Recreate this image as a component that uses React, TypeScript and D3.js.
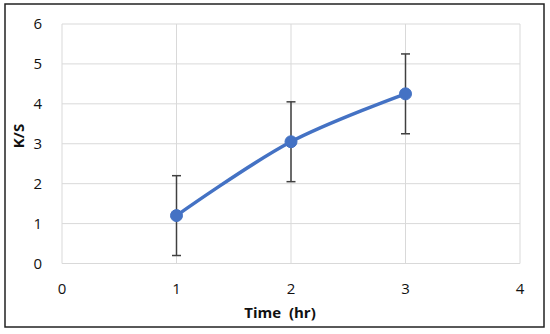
import React from 'react';
import * as d3 from 'd3';

const times = [1, 2, 3];
const ksValues = [1.2, 3.05, 4.25];
const errors = [1, 1, 1];
const xTicks = [0, 1, 2, 3, 4];
const yTicks = [0, 1, 2, 3, 4, 5, 6];

const App = () => {
  const width = 550, height = 334;
  const margin = { top: 24, right: 30, bottom: 70.5, left: 62 };

  const x = d3.scaleLinear().domain([0, 4]).range([margin.left, width - margin.right]);
  const y = d3.scaleLinear().domain([0, 6]).range([height - margin.bottom, margin.top]);

  const points = times.map((t, i) => ({ t, v: ksValues[i], e: errors[i] }));
  const line = d3.line<{ t: number; v: number }>()
    .x((d) => x(d.t))
    .y((d) => y(d.v))
    .curve(d3.curveCatmullRom.alpha(0.5));

  const font = 'Open Sans, Noto Sans, sans-serif';

  return (
    <svg width={width} height={height} style={{ position: 'absolute', left: 0, top: 0 }}>
      <rect x={5} y={4} width={539} height={323} fill="#fff" stroke="#222" strokeWidth={1.5} />
      {/* grid */}
      {yTicks.map((t) => (
        <line key={`gy-${t}`} x1={x(0)} x2={x(4)} y1={y(t)} y2={y(t)} stroke="#d9d9d9" strokeWidth={1} />
      ))}
      {xTicks.map((t) => (
        <line key={`gx-${t}`} x1={x(t)} x2={x(t)} y1={y(0)} y2={y(6)} stroke="#d9d9d9" strokeWidth={1} />
      ))}
      {/* tick labels */}
      {yTicks.map((t) => (
        <text key={`ly-${t}`} x={42} y={y(t)} dy="0.35em" textAnchor="end" fontSize={15} fontFamily={font} fill="#111">
          {t}
        </text>
      ))}
      {xTicks.map((t) => (
        <text key={`lx-${t}`} x={x(t)} y={y(0) + 30} textAnchor="middle" fontSize={15} fontFamily={font} fill="#111">
          {t}
        </text>
      ))}
      {/* axis titles */}
      <text x={280} y={318} textAnchor="middle" fontSize={15} fontWeight="bold" fontFamily={font} fill="#111" xmlSpace="preserve">
        Time  (hr)
      </text>
      <text transform="translate(24,136) rotate(-90)" textAnchor="middle" fontSize={15} fontWeight="bold" fontFamily={font} fill="#111">
        K/S
      </text>
      {/* error bars */}
      {points.map((d) => (
        <g key={`err-${d.t}`} stroke="#404040" strokeWidth={1.5}>
          <line x1={x(d.t)} x2={x(d.t)} y1={y(d.v - d.e)} y2={y(d.v + d.e)} />
          <line x1={x(d.t) - 4.5} x2={x(d.t) + 4.5} y1={y(d.v - d.e)} y2={y(d.v - d.e)} />
          <line x1={x(d.t) - 4.5} x2={x(d.t) + 4.5} y1={y(d.v + d.e)} y2={y(d.v + d.e)} />
        </g>
      ))}
      {/* series */}
      <path d={line(points) || ''} fill="none" stroke="#4472c4" strokeWidth={3.5} strokeLinecap="round" />
      {points.map((d) => (
        <circle key={`pt-${d.t}`} cx={x(d.t)} cy={y(d.v)} r={6} fill="#4472c4" stroke="#4472c4" />
      ))}
    </svg>
  );
};

export default App;
